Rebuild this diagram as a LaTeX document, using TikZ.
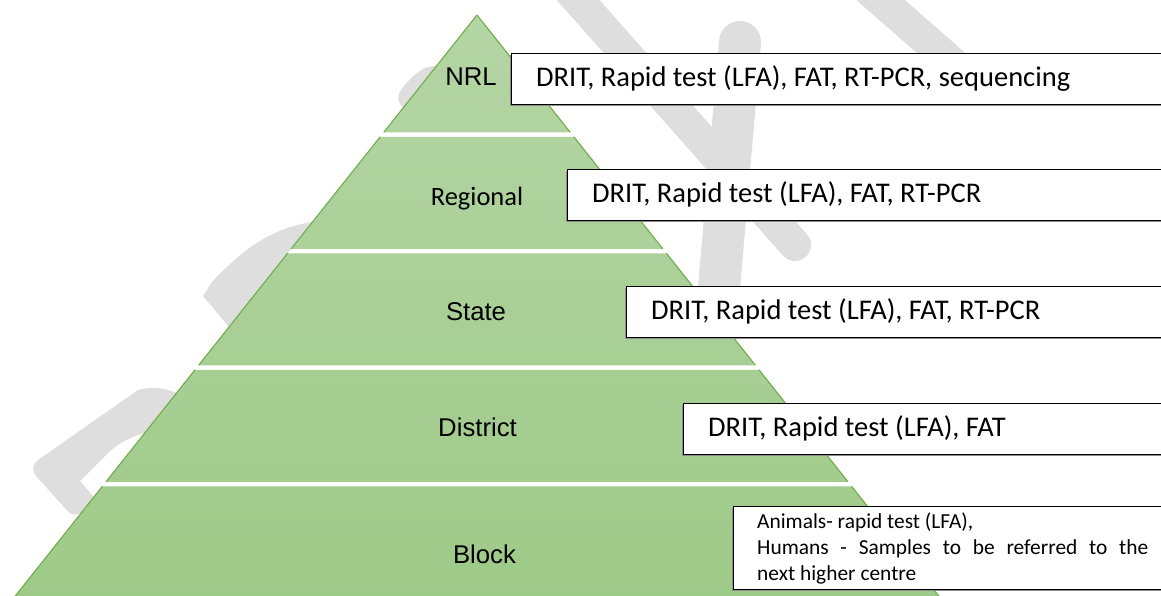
\documentclass[tikz,border=0pt]{standalone}
\usepackage{fontspec}
\newfontfamily\calfont{Carlito}
\newfontfamily\arfont{Liberation Sans}
\usetikzlibrary{shadows,calc}
\definecolor{wmgray}{RGB}{222,222,222}
\definecolor{pyrtop}{RGB}{181,213,165}
\definecolor{pyrbot}{RGB}{158,202,136}
\definecolor{pyredge}{RGB}{112,173,71}

\begin{document}
\begin{tikzpicture}[x=1pt,y=-1pt,
  wm/.style={draw=wmgray, line cap=round, line join=round},
  wmfill/.style={fill=wmgray},
  pyrside/.style={draw=pyredge, line width=1.1pt},
  lvl/.style={font=\arfont\fontsize{25.7}{30}\selectfont, inner sep=0pt, anchor=base},
  testbox/.style={draw=black, line width=0.9pt, fill=white, inner sep=0pt,
    anchor=north west, minimum height=51pt,
    drop shadow={shadow xshift=-1pt, shadow yshift=-1.5pt, fill=black!45, opacity=1}},
  testtext/.style={font=\calfont\fontsize{28.5}{34}\selectfont, inner sep=0pt, anchor=base west},
]
\useasboundingbox (0,0) rectangle (1161,595);
\clip (0,0) rectangle (1161,595);

% faint background watermark strokes
\fill[wmfill] (176.6,393) .. controls (165,388) and (152,386) .. (138,390)
  [rounded corners=12] -- (28,467) -- (75.6,520) [sharp corners] -- (93.9,497)
  -- (80,481) -- (110,451) .. controls (122,441) and (133,436) .. (144.7,433) -- cycle;
\fill[wmfill] (312.5,222) .. controls (270,228) and (240,252) .. (212,282)
  -- (203,296) -- (229,327) -- cycle;
\fill[wmfill] (436.5,66) .. controls (425,66) and (418,70) .. (404,86)
  .. controls (396,95) and (397,101) .. (403.1,108) -- cycle;
\draw[wm, line width=32pt] (556,-25) -- (795,245);
\draw[wm, line width=42pt] (740,42) -- (718,300);
\draw[wm, line width=32pt] (852,-25) -- (972,80);

% pyramid: five bands sharing one vertical gradient
\foreach \t/\b in {15/132.25, 136.75/248.75, 253.25/365.25, 369.75/481.75, 486.25/600} {
  \pgfmathsetmacro{\tl}{477-0.7948*(\t-15)}
  \pgfmathsetmacro{\tr}{477+0.7948*(\t-15)}
  \pgfmathsetmacro{\bl}{477-0.7948*(\b-15)}
  \pgfmathsetmacro{\br}{477+0.7948*(\b-15)}
  \coordinate (tl) at (\tl,\t);
  \coordinate (tr) at (\tr,\t);
  \coordinate (bl) at (\bl,\b);
  \coordinate (br) at (\br,\b);
  \begin{scope}
    \clip (tl) -- (tr) -- (br) -- (bl) -- cycle;
    \shade[top color=pyrtop, bottom color=pyrbot] (0,15) rectangle (1161,600);
  \end{scope}
  \draw[pyrside] (tl) -- (bl);
  \draw[pyrside] (tr) -- (br);
}

% level names
\node[lvl] (nrl) at (471,85) {NRL};
\node[lvl, font=\calfont\fontsize{26.5}{30}\selectfont] (regional) at (477,205) {Regional};
\node[lvl] (state) at (476,320) {State};
\node[lvl] (district) at (477.5,436) {District};
\node[lvl] (block) at (484.5,563) {Block};

% test boxes
\node[testbox, minimum width=664pt] (nrlbox) at (511,53) {};
\node[testtext] (nrltext) at ($(nrlbox.north west)+(25,33)$)
  {DRIT, Rapid test (LFA), FAT, RT-PCR, sequencing};

\node[testbox, minimum width=608pt] (regbox) at (567,169) {};
\node[testtext] (regtext) at ($(regbox.north west)+(25,33)$)
  {DRIT, Rapid test (LFA), FAT, RT-PCR};

\node[testbox, minimum width=549pt] (statebox) at (626,286) {};
\node[testtext] (statetext) at ($(statebox.north west)+(25,33)$)
  {DRIT, Rapid test (LFA), FAT, RT-PCR};

\node[testbox, minimum width=492pt] (distbox) at (683,403) {};
\node[testtext] (disttext) at ($(distbox.north west)+(25,33)$)
  {DRIT, Rapid test (LFA), FAT};

\node[testbox, minimum width=442pt, minimum height=83pt] (blockbox) at (733,506) {};
\node[inner sep=0pt, anchor=base west] (blocktext) at ($(blockbox.north west)+(24,22)$)
  {\parbox[t]{391pt}{\calfont\fontsize{21.4}{26}\selectfont
   Animals- rapid test (LFA),\\
   Humans - Samples to be referred to the\linebreak
   next higher centre}};
\end{tikzpicture}
\end{document}
